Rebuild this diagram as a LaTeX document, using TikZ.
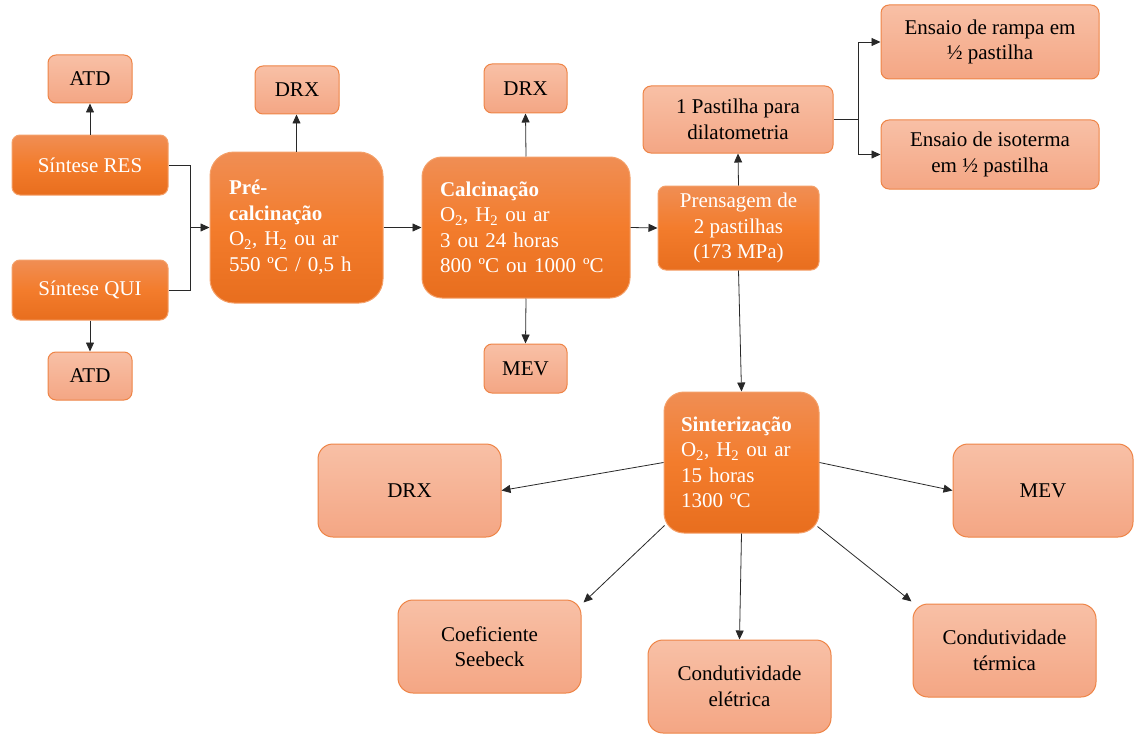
\documentclass[tikz,border=0pt]{standalone}
\usepackage{fontspec}
\setmainfont{Liberation Serif}
\usetikzlibrary{arrows.meta,calc}
\definecolor{dtop}{RGB}{240,142,84}
\definecolor{dmid}{RGB}{243,124,44}
\definecolor{dbot}{RGB}{232,110,30}
\definecolor{dborder}{RGB}{244,160,105}
\definecolor{ltop}{RGB}{248,192,166}
\definecolor{lbot}{RGB}{244,166,132}
\definecolor{lborder}{RGB}{238,132,70}
\definecolor{linec}{RGB}{40,40,40}
\newcommand{\fsz}{\fontsize{21}{25.5}\selectfont}
\tikzset{
  boxbase/.style={rounded corners=8pt, line width=1pt, inner sep=0pt, align=center, font=\fsz},
  darkbox/.style={boxbase, top color=dtop, bottom color=dbot, middle color=dmid, draw=dborder, text=white},
  lightbox/.style={boxbase, top color=ltop, bottom color=lbot, draw=lborder, text=black},
  conn/.style={line width=0.8pt, draw=linec},
  arr/.style={conn, -{Triangle[length=9pt,width=8pt]}},
}
\begin{document}
\begin{tikzpicture}[x=1pt,y=-1pt]
\useasboundingbox (0,0) rectangle (1134,733);
% left column
\node[lightbox, minimum width=84, minimum height=48] (atd1) at (90,79) {ATD};
\node[darkbox, minimum width=156, minimum height=60] (res) at (90,165) {Síntese RES};
\node[darkbox, minimum width=156, minimum height=60] (qui) at (90,290) {Síntese QUI};
\node[lightbox, minimum width=84, minimum height=48] (atd2) at (90,376) {ATD};
% pre-calcination
\node[lightbox, minimum width=84, minimum height=48] (drx1) at (297,90) {DRX};
\node[darkbox, rounded corners=24pt, minimum width=173, minimum height=151, align=left, text width=135] (pre) at (296.5,227.5)
  {\textbf{Pré-}\\\textbf{calcinação}\\O\textsubscript{2}, H\textsubscript{2} ou ar\\550 ºC / 0,5 h};
% calcination
\node[lightbox, minimum width=83, minimum height=49] (drx2) at (525.5,88.5) {DRX};
\node[darkbox, rounded corners=20pt, minimum width=208, minimum height=141, align=left, text width=172] (calc) at (526,227.5)
  {\textbf{Calcinação}\\O\textsubscript{2}, H\textsubscript{2} ou ar\\3 ou 24 horas\\800 ºC ou 1000 ºC};
\node[lightbox, minimum width=83, minimum height=49] (mev1) at (525.5,368.5) {MEV};
% pressing
\node[darkbox, minimum width=161, minimum height=84] (pren) at (738.5,228) {Prensagem de\\2 pastilhas\\(173 MPa)};
\node[lightbox, minimum width=190, minimum height=67] (past) at (738,119.5) {1 Pastilha para\\dilatometria};
\node[lightbox, minimum width=218, minimum height=74] (ramp) at (990,42) {Ensaio de rampa em\\½ pastilha};
\node[lightbox, minimum width=218, minimum height=69] (iso) at (990,154.5) {Ensaio de isoterma\\em ½ pastilha};
% sintering
\node[darkbox, rounded corners=20pt, minimum width=155, minimum height=141, align=left, text width=121] (sint) at (741.5,462.5)
  {\textbf{Sinterização}\\O\textsubscript{2}, H\textsubscript{2} ou ar\\15 horas\\1300 ºC};
\node[lightbox, rounded corners=15pt, minimum width=183, minimum height=93] (drx3) at (409.5,490.5) {DRX};
\node[lightbox, rounded corners=15pt, minimum width=180, minimum height=93] (mev3) at (1043,490.5) {MEV};
\node[lightbox, rounded corners=15pt, minimum width=183, minimum height=93] (coef) at (489.5,646.5) {Coeficiente\\Seebeck};
\node[lightbox, rounded corners=15pt, minimum width=183, minimum height=93] (elec) at (739.5,686.5) {Condutividade\\elétrica};
\node[lightbox, rounded corners=15pt, minimum width=183, minimum height=93] (therm) at (1004.5,650.5) {Condutividade\\térmica};
% connectors
\coordinate (j1) at (190,227.5);
\coordinate (j2) at (858,119.5);
\draw[arr] (res.north) -- (atd1.south);
\draw[arr] (qui.south) -- (atd2.north);
\draw[conn] (res.east) -| (j1);
\draw[conn] (qui.east) -| (j1);
\draw[arr] (j1) -- (pre.west);
\draw[arr] (pre.north) -- (drx1.south -| pre.north);
\draw[arr] (pre.east) -- (calc.west);
\draw[arr] (calc.north) -- (drx2.south);
\draw[arr] (calc.south) -- (mev1.north);
\draw[arr] (calc.east) -- (pren.west);
\draw[arr] (pren.north) -- (past.south);
\draw[conn] (past.east) -- (j2);
\draw[arr] (j2) |- (ramp.west);
\draw[arr] (j2) |- (iso.west);
\draw[arr] (pren.south) -- (sint.north);
\draw[arr] (sint.west) -- (drx3.east);
\draw[arr] (sint.east) -- (mev3.west);
\draw[arr] ($(sint.south west)+(1,-8)$) -- ($(coef.north east)+(2,3)$);
\draw[arr] (sint.south) -- (elec.north);
\draw[arr] ($(sint.south east)+(-2,-7)$) -- ($(therm.north west)+(-1,-2)$);
\end{tikzpicture}
\end{document}
